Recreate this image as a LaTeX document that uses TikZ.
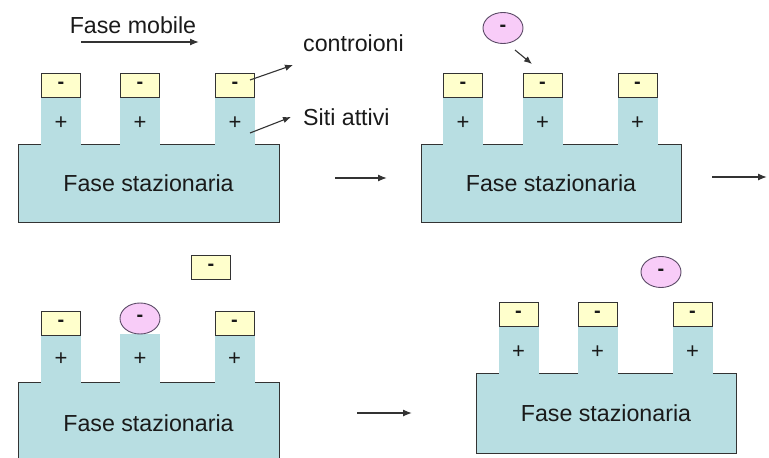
\documentclass[tikz,border=0pt]{standalone}
\usepackage{fontspec}
\setmainfont{Liberation Sans}
\usetikzlibrary{arrows.meta,shapes.geometric}
\definecolor{statc}{HTML}{B8DEE2}
\definecolor{capc}{HTML}{FFFFCC}
\definecolor{ionc}{HTML}{F8CCF8}
\definecolor{edgec}{HTML}{333333}
\definecolor{ionedge}{HTML}{5A4A66}
\definecolor{inkc}{HTML}{1A1A1A}

\begin{document}
\begin{tikzpicture}[x=1pt,y=-1pt,
  basebox/.style={draw=edgec, line width=1pt, fill=statc, rectangle, inner sep=0pt,
    font=\fontsize{23.2}{23.2}\selectfont, text=inkc},
  column/.style={fill=statc, rectangle, inner sep=0pt, minimum width=40pt, minimum height=49pt},
  plussign/.style={inner sep=0pt, font=\fontsize{22}{22}\selectfont, text=inkc},
  capbox/.style={draw=edgec, line width=0.8pt, fill=capc, rectangle, inner sep=0pt,
    minimum width=39pt, minimum height=24pt, font=\bfseries\fontsize{20}{20}\selectfont, text=inkc},
  ion/.style={draw=ionedge, line width=0.9pt, fill=ionc, ellipse, inner sep=0pt,
    minimum width=40pt, minimum height=31pt, font=\bfseries\fontsize{20}{20}\selectfont, text=inkc},
  caption/.style={inner sep=0pt, font=\fontsize{23.2}{23.2}\selectfont, text=inkc},
  flow/.style={draw=edgec, line width=1.3pt, -{Latex[length=9pt,width=7pt]}},
  lead/.style={draw=edgec, line width=1.1pt, -{Latex[length=8pt,width=6.5pt]}},
]
\useasboundingbox (0,0) rectangle (769,458);
\clip (0,0) rectangle (769,458);

% ---------- panel 1: resin at rest ----------
\node[basebox, minimum width=261pt, minimum height=78pt] (b1) at (148.5,183) {Fase stazionaria};
\foreach \c/\x in {1/61,2/140,3/235}{
  \node[column] (k1\c) at (\x,120.5) {};
  \node[plussign] (p1\c) at (\x,123) {+};
  \node[capbox] (c1\c) at (\x,85) {-};
}
\node[caption] (mob) at (133,25) {Fase mobile};
\coordinate (mobA) at (81,42);
\coordinate (mobB) at (199,42);
\draw[flow] (mobA) -- (mobB);

\node[caption, anchor=west] (contro) at (303,43) {controioni};
\coordinate (controS) at (250,80);
\coordinate (controE) at (293,65);
\draw[lead] (controS) -- (controE);

\node[caption, anchor=west] (siti) at (303,117) {Siti attivi};
\coordinate (sitiS) at (250,133);
\coordinate (sitiE) at (291,117);
\draw[lead] (sitiS) -- (sitiE);

\coordinate (s1A) at (335,178);
\coordinate (s1B) at (387,178);
\draw[flow] (s1A) -- (s1B);

% ---------- panel 2: an ion approaches ----------
\node[basebox, minimum width=260pt, minimum height=78pt] (b2) at (551,183) {Fase stazionaria};
\foreach \c/\x in {1/463,2/542.5,3/637.5}{
  \node[column] (k2\c) at (\x,120.5) {};
  \node[plussign] (p2\c) at (\x,123) {+};
  \node[capbox] (c2\c) at (\x,85) {-};
}
\node[ion] (i2) at (503,28) {-};
\coordinate (i2A) at (515,50);
\coordinate (i2B) at (532,64);
\draw[lead] (i2A) -- (i2B);

\coordinate (s2A) at (712,177);
\coordinate (s2B) at (767,177);
\draw[flow] (s2A) -- (s2B);

% ---------- panel 3: exchange on the middle site ----------
\node[basebox, minimum width=261pt, minimum height=82pt] (b3) at (148.5,423) {Fase stazionaria};
\foreach \c/\x in {1/61,2/140,3/234.5}{
  \node[column] (k3\c) at (\x,358.5) {};
  \node[plussign] (p3\c) at (\x,359) {+};
}
\node[capbox] (c31) at (61,323) {-};
\node[capbox] (c33) at (234.5,323) {-};
\node[ion] (i3) at (140,318.5) {-};
\node[capbox] (c3f) at (211,267) {-};

\coordinate (s3A) at (357,413);
\coordinate (s3B) at (412,413);
\draw[flow] (s3A) -- (s3B);

% ---------- panel 4: ion released ----------
\node[basebox, minimum width=260pt, minimum height=80pt] (b4) at (606,413) {Fase stazionaria};
\foreach \c/\x in {1/518.5,2/597.5,3/692.5}{
  \node[column] (k4\c) at (\x,349.5) {};
  \node[plussign] (p4\c) at (\x,352) {+};
  \node[capbox] (c4\c) at (\x,314) {-};
}
\node[ion] (i4) at (661,272) {-};
\end{tikzpicture}
\end{document}
